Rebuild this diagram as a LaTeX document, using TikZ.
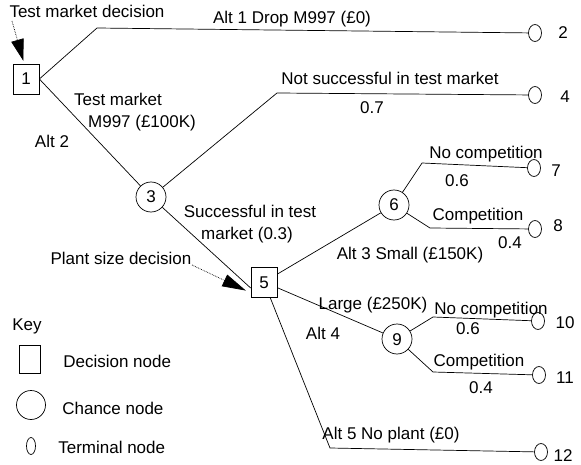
\documentclass[tikz,border=0pt]{standalone}
\usepackage{fontspec}
\setmainfont{Liberation Sans}
\usetikzlibrary{arrows.meta, positioning, calc, shapes.geometric}

\begin{document}
\begin{tikzpicture}[x=1pt, y=-1pt, line width=0.7pt,
    every node/.style={font=\fontsize{17}{19}\selectfont, inner sep=0pt,
        text height=12pt, text depth=0pt},
    decision/.style={rectangle, draw, minimum width=26pt, minimum height=30pt},
    chance/.style={circle, draw, minimum size=30pt},
    endpt/.style={ellipse, draw, minimum width=13pt, minimum height=15pt},
    pointer/.style={densely dotted},
    pointhead/.style={fill=black, draw=black, line join=miter}]
    \useasboundingbox (0,0) rectangle (581,465);

    % decision nodes
    \node[decision] (n1) at (26,79) {1};
    \node[decision] (n5) at (264,282) {5};

    % chance nodes
    \node[chance] (n3) at (151,197) {3};
    \node[chance] (n6) at (394,205) {6};
    \node[chance] (n9) at (397,339) {9};

    % terminal nodes
    \node[endpt] (t2) at (535,33) {};
    \node[endpt] (t4) at (535,95) {};
    \node[endpt] (t7) at (534,168) {};
    \node[endpt] (t8) at (535,229) {};
    \node[endpt] (t10) at (538,321) {};
    \node[endpt] (t11) at (539,375) {};
    \node[endpt] (t12) at (541,452) {};

    \node at (563,33) {2};
    \node at (565,97) {4};
    \node at (556,171) {7};
    \node at (558,226) {8};
    \node at (565,322) {10};
    \node at (565,377) {11};
    \node at (563,455) {12};

    % bends
    \coordinate (b2) at (97,28);
    \coordinate (b4) at (277,93);
    \coordinate (b7) at (422,163);
    \coordinate (b8) at (430,228);
    \coordinate (b10) at (433,317);
    \coordinate (b11) at (433,372);
    \coordinate (b12) at (330,448);

    % branches
    \draw (n1.east) -- (b2) -- (t2);
    \draw (n1.east) -- (n3);
    \draw (n3) -- (b4) -- (t4);
    \draw (n3) -- ([yshift=-6pt]n5.west);
    \draw (n5) -- (n6);
    \draw (n5) -- (n9);
    \draw (n5) -- (b12) -- (t12);
    \draw (n6) -- (b7) -- (t7);
    \draw (n6) -- (b8) -- (t8);
    \draw (n9) -- (b10) -- (t10);
    \draw (n9) -- (b11) -- (t11);

    % branch labels
    \node at (87,12) {Test market decision};
    \node at (292,18) {Alt 1 Drop M997 (£0)};
    \node at (118,100) {Test market};
    \node at (142,122) {M997 (£100K)};
    \node at (52,142) {Alt 2};
    \node at (390,79) {Not successful in test market};
    \node at (372,108) {0.7};
    \node at (250,212) {Successful in test};
    \node at (247,234) {market (0.3)};
    \node at (121,258) {Plant size decision};
    \node at (410,253) {Alt 3 Small (£150K)};
    \node at (486,153) {No competition};
    \node at (457,181) {0.6};
    \node at (478,215) {Competition};
    \node at (510,242) {0.4};
    \node at (373,303) {Large (£250K)};
    \node at (323,333) {Alt 4};
    \node at (491,308) {No competition};
    \node at (468,328) {0.6};
    \node at (479,360) {Competition};
    \node at (481,387) {0.4};
    \node at (391,433) {Alt 5 No plant (£0)};

    % pointers
    \coordinate (p1) at (12,21);
    \coordinate (q1) at ([xshift=-3pt, yshift=4pt]n1.north);
    \coordinate (h1) at ($(q1)!20pt!(p1)$);
    \draw[pointer] (p1) -- (h1);
    \path[pointhead] (q1) -- ($(h1)!6pt!90:(q1)$) -- ($(h1)!6pt!-90:(q1)$) -- cycle;

    \coordinate (p5) at (192,265);
    \coordinate (q5) at ([xshift=-6pt, yshift=-8pt]n5.west);
    \coordinate (h5) at ($(q5)!22pt!(p5)$);
    \draw[pointer] (p5) -- (h5);
    \path[pointhead] (q5) -- ($(h5)!6pt!90:(q5)$) -- ($(h5)!6pt!-90:(q5)$) -- cycle;

    % key
    \node[anchor=west] (key) at (12,324) {Key};
    \node[decision, minimum width=21pt, minimum height=28pt] (kd) at (30,359) {};
    \node[anchor=west] at (63,361) {Decision node};
    \node[chance, minimum size=29pt] (kc) at (31,405) {};
    \node[anchor=west] at (62,408) {Chance node};
    \node[endpt, minimum width=9pt, minimum height=12pt] (kt) at (31,446) {};
    \node[anchor=west] at (58,447) {Terminal node};
\end{tikzpicture}
\end{document}
